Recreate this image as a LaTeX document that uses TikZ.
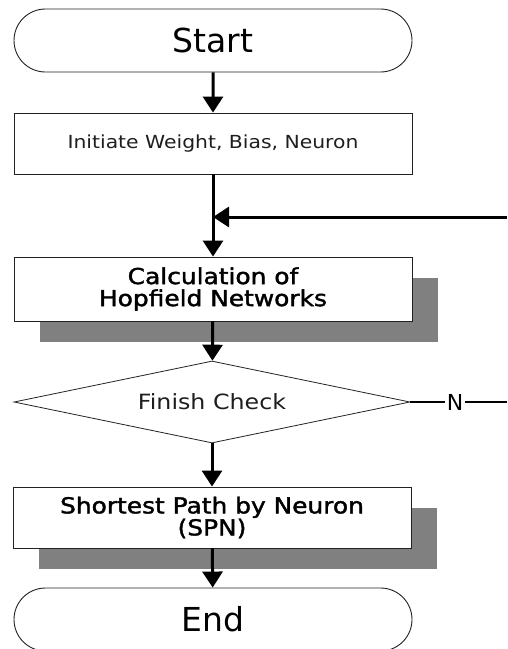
\documentclass[tikz,border=0pt]{standalone}
\usepackage{fontspec}
\setmainfont{DejaVu Sans}
\newfontfamily\medfont[FakeBold=1.6]{DejaVu Sans}
\usetikzlibrary{arrows.meta,shapes.misc,shapes.geometric,shadows}
\definecolor{shadowgray}{HTML}{808080}
\definecolor{edgegray}{HTML}{222222}
\definecolor{txtgray}{HTML}{1E1E1E}
\newcommand{\widetext}[1]{\scalebox{1.13}[1]{#1}}
\begin{document}
\begin{tikzpicture}[x=1pt,y=-1pt,
  terminal/.style={draw=edgegray,line width=0.9pt,rounded rectangle,minimum width=398pt,minimum height=63pt,inner sep=0pt,font=\fontsize{33}{33}\selectfont},
  plainbox/.style={draw=edgegray,line width=0.9pt,fill=white,rectangle,minimum width=398pt,minimum height=61pt,inner sep=0pt,align=center},
  shadowbox/.style={plainbox,minimum height=64pt,drop shadow={shadow xshift=26pt,shadow yshift=-21pt,fill=shadowgray,opacity=1},font=\medfont\fontsize{22}{22}\selectfont},
  decision/.style={draw=edgegray,line width=0.8pt,diamond,aspect=4.83,minimum width=396pt,minimum height=82pt,inner sep=0pt},
  flow/.style={line width=3pt,-{Triangle[width=20pt,length=16pt]}},
  thin/.style={line width=1.6pt}
]
\useasboundingbox (0,0) rectangle (507,649);
\node[terminal] (start) at (213,40.5) {Start};
\node[plainbox] (init) at (213,143.5) {\textcolor{txtgray}{\widetext{\fontsize{18}{22}\selectfont Initiate Weight, Bias, Neuron}}};
\node[shadowbox] (calc) at (213,289) {\widetext{Calculation of}\\\widetext{Hopfield Networks}};
\node[decision] (check) at (212,402) {\textcolor{txtgray}{\widetext{\fontsize{21}{22}\selectfont Finish Check}}};
\node[shadowbox,minimum height=61pt] (spn) at (212,517.5) {\widetext{Shortest Path by Neuron}\\\widetext{(SPN)}};
\node[terminal] (end) at (213,619.5) {End};
\node[font=\fontsize{22}{22}\selectfont,inner sep=2pt] (n) at (455,402) {N};
\coordinate (fbin) at (507,217);
\coordinate (join) at (init.south |- fbin);
\coordinate (nend) at (507,402);

\draw[flow] (start) -- (init);
\draw[flow] (init) -- (calc);
\draw[flow] (fbin) -- (join);
\draw[flow] (calc) -- (check);
\draw[flow] (check) -- (spn);
\draw[flow] (spn) -- (end);
\draw[thin] (check.east) -- (n);
\draw[thin] (n) -- (nend);
\end{tikzpicture}
\end{document}
